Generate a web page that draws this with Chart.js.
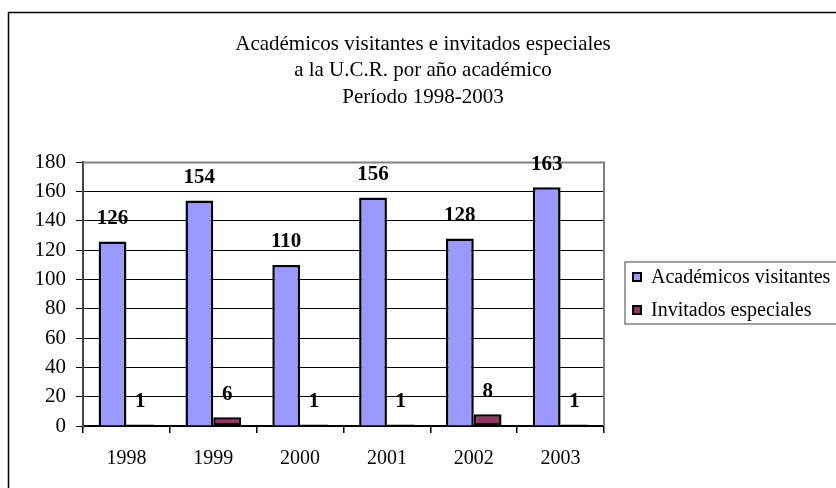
<!DOCTYPE html>
<html>
<head>
<meta charset="utf-8">
<script src="https://cdn.jsdelivr.net/npm/chart.js@4.4.0/dist/chart.umd.min.js"></script>
<style>
  html, body { margin: 0; padding: 0; background: #fff; }
</style>
</head>
<body>
<canvas id="chart" width="836" height="488"></canvas>
<script>
const years = ['1998', '1999', '2000', '2001', '2002', '2003'];
const visitantes = [126, 154, 110, 156, 128, 163];
const invitados = [1, 6, 1, 1, 8, 1];
const seriesNames = ['Académicos visitantes', 'Invitados especiales'];
const titleLines = [
  'Académicos visitantes e invitados especiales',
  'a la U.C.R. por año académico',
  'Período 1998-2003'
];

const serif = "'Liberation Serif', 'Times New Roman', serif";
Chart.defaults.font.family = serif;
Chart.defaults.font.size = 20;
Chart.defaults.color = '#000';

// frame, plot border, value labels and legend box
const extras = {
  id: 'extras',
  afterDraw(chart) {
    const c = chart.ctx;
    const a = chart.chartArea;
    c.save();
    // outer frame (only top/left visible)
    c.strokeStyle = '#000';
    c.lineWidth = 1.5;
    c.beginPath();
    c.moveTo(8.5, 488);
    c.lineTo(8.5, 12.5);
    c.lineTo(836, 12.5);
    c.stroke();

    // gray top/right border of the plot
    c.strokeStyle = '#808080';
    c.lineWidth = 2;
    c.beginPath();
    c.moveTo(a.left, a.top);
    c.lineTo(a.right, a.top);
    c.lineTo(a.right, a.bottom);
    c.stroke();

    // value labels
    c.fillStyle = '#000';
    c.font = 'bold 21px ' + serif;
    c.textAlign = 'center';
    c.textBaseline = 'middle';
    chart.data.datasets.forEach((ds, i) => {
      chart.getDatasetMeta(i).data.forEach((bar, j) => {
        c.fillText(String(ds.data[j]), bar.x, bar.y - 23);
      });
    });

    // legend
    const lx = a.right + 21, ly = 262;
    c.strokeStyle = '#808080';
    c.lineWidth = 1.5;
    c.strokeRect(lx, ly, 836 - lx + 2, 62);
    c.font = '20px ' + serif;
    c.textAlign = 'left';
    chart.data.datasets.forEach((ds, i) => {
      const cy = ly + 15 + i * 33;
      c.fillStyle = ds.backgroundColor;
      c.fillRect(lx + 8, cy - 4, 8, 8);
      c.strokeStyle = '#000';
      c.lineWidth = 2;
      c.strokeRect(lx + 8, cy - 4, 8, 8);
      c.fillStyle = '#000';
      c.fillText(ds.label, lx + 26, cy + 1);
    });
    c.restore();
  }
};

new Chart(document.getElementById('chart'), {
  type: 'bar',
  data: {
    labels: years,
    datasets: [
      {
        label: seriesNames[0],
        data: visitantes,
        backgroundColor: '#9999FF',
        borderColor: '#000',
        borderWidth: 2.5,
        categoryPercentage: 0.64,
        barPercentage: 1
      },
      {
        label: seriesNames[1],
        data: invitados,
        backgroundColor: '#993366',
        borderColor: '#000',
        borderWidth: 2.5,
        borderSkipped: false,
        categoryPercentage: 0.64,
        barPercentage: 1
      }
    ]
  },
  options: {
    responsive: false,
    animation: false,
    layout: { padding: { left: 10, right: 0, top: 0, bottom: 0 } },
    plugins: {
      legend: { display: false },
      tooltip: { enabled: false },
      title: {
        display: true,
        text: titleLines,
        color: '#000',
        font: { size: 21, weight: 'normal', lineHeight: 1.26 },
        padding: { top: 31, bottom: 52 }
      }
    },
    scales: {
      x: {
        grid: { drawOnChartArea: false, color: '#000', lineWidth: 1.5, tickLength: 7, offset: true },
        border: { color: '#000', width: 1.5 },
        ticks: { padding: 14, font: { size: 20 } },
        afterFit(s) { s.height = 62; }
      },
      y: {
        min: 0,
        max: 180,
        ticks: { stepSize: 20, padding: 10, font: { size: 21 } },
        grid: { color: '#000', lineWidth: 1, tickLength: 7 },
        border: { color: '#444', width: 2 },
        afterFit(s) { s.width = 73; }
      },
      legendSpace: {
        position: 'right',
        display: true,
        ticks: { display: false },
        grid: { display: false },
        border: { display: false },
        afterFit(s) { s.width = 232; }
      }
    }
  },
  plugins: [extras]
});
</script>
</body>
</html>
